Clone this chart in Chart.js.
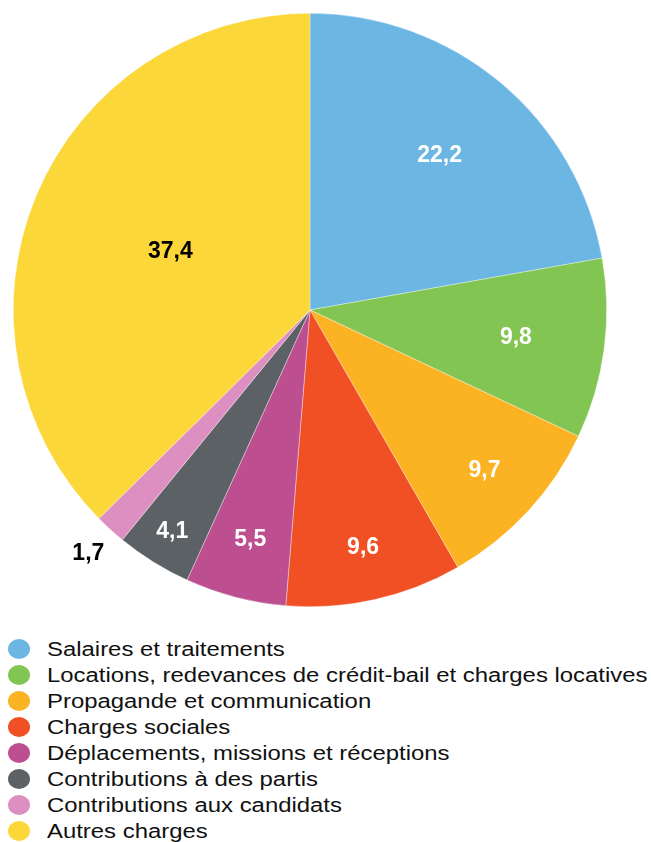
<!DOCTYPE html>
<html>
<head>
<meta charset="utf-8">
<script src="https://cdn.jsdelivr.net/npm/chart.js@4/dist/chart.umd.min.js"></script>
<style>
  html, body { margin: 0; padding: 0; background: #fff; }
  body { width: 651px; height: 842px; position: relative; overflow: hidden; font-family: "Liberation Sans", Arial, sans-serif; }
  #pie-wrap { position: absolute; left: 0; top: 0; width: 620px; height: 620px; }
  #legend { position: absolute; left: 8px; top: 636px; margin: 0; padding: 0; list-style: none; }
  #legend li { height: 26px; line-height: 26px; font-size: 20px; color: #111; white-space: nowrap; }
  #legend .dot { display: inline-block; width: 22px; height: 20px; border-radius: 50%; vertical-align: -3px; margin-right: 17px; }
  #legend .txt { display: inline-block; transform: scaleX(1.195); transform-origin: left center; }
</style>
</head>
<body>
<div id="pie-wrap"><canvas id="pie"></canvas></div>
<ul id="legend"></ul>
<script>
const LABELS = [
  'Salaires et traitements',
  'Locations, redevances de crédit-bail et charges locatives',
  'Propagande et communication',
  'Charges sociales',
  'Déplacements, missions et réceptions',
  'Contributions à des partis',
  'Contributions aux candidats',
  'Autres charges',
];
const VALUES = [22.2, 9.8, 9.7, 9.6, 5.5, 4.1, 1.7, 37.4];
const COLORS = ['#6cb6e4', '#83c552', '#fbb324', '#f05023', '#bd4f91', '#5c6166', '#dd8fc1', '#fbd73a'];

// where each value label sits, as a fraction of the radius, and its colour
const LABEL_RADIUS = [0.68, 0.70, 0.80, 0.82, 0.80, 0.88, 1.11, 0.51];
const LABEL_COLORS = ['#fff', '#fff', '#fff', '#fff', '#fff', '#fff', '#000', '#000'];

const valueLabels = {
  id: 'valueLabels',
  afterDatasetsDraw(chart) {
    const ctx = chart.ctx;
    const meta = chart.getDatasetMeta(0);
    ctx.save();
    ctx.font = 'bold 23px "Liberation Sans", Arial, sans-serif';
    ctx.textAlign = 'center';
    ctx.textBaseline = 'middle';
    meta.data.forEach((arc, i) => {
      const mid = (arc.startAngle + arc.endAngle) / 2;
      const r = arc.outerRadius * LABEL_RADIUS[i];
      const x = arc.x + Math.cos(mid) * r;
      const y = arc.y + Math.sin(mid) * r;
      ctx.fillStyle = LABEL_COLORS[i];
      ctx.fillText(VALUES[i].toFixed(1).replace('.', ','), x, y);
    });
    ctx.restore();
  },
};

new Chart(document.getElementById('pie'), {
  type: 'pie',
  data: {
    labels: LABELS,
    datasets: [{
      data: VALUES,
      backgroundColor: COLORS,
      borderColor: 'rgba(255,255,255,0.6)',
      borderWidth: 0.6,
    }],
  },
  options: {
    responsive: true,
    maintainAspectRatio: false,
    animation: false,
    layout: { padding: 13 },
    plugins: {
      legend: { display: false },
      tooltip: { enabled: false },
    },
  },
  plugins: [valueLabels],
});

const legendEl = document.getElementById('legend');
LABELS.forEach((label, i) => {
  const li = document.createElement('li');
  const dot = document.createElement('span');
  dot.className = 'dot';
  dot.style.background = COLORS[i];
  const txt = document.createElement('span');
  txt.className = 'txt';
  txt.textContent = label;
  li.appendChild(dot);
  li.appendChild(txt);
  legendEl.appendChild(li);
});
</script>
</body>
</html>
